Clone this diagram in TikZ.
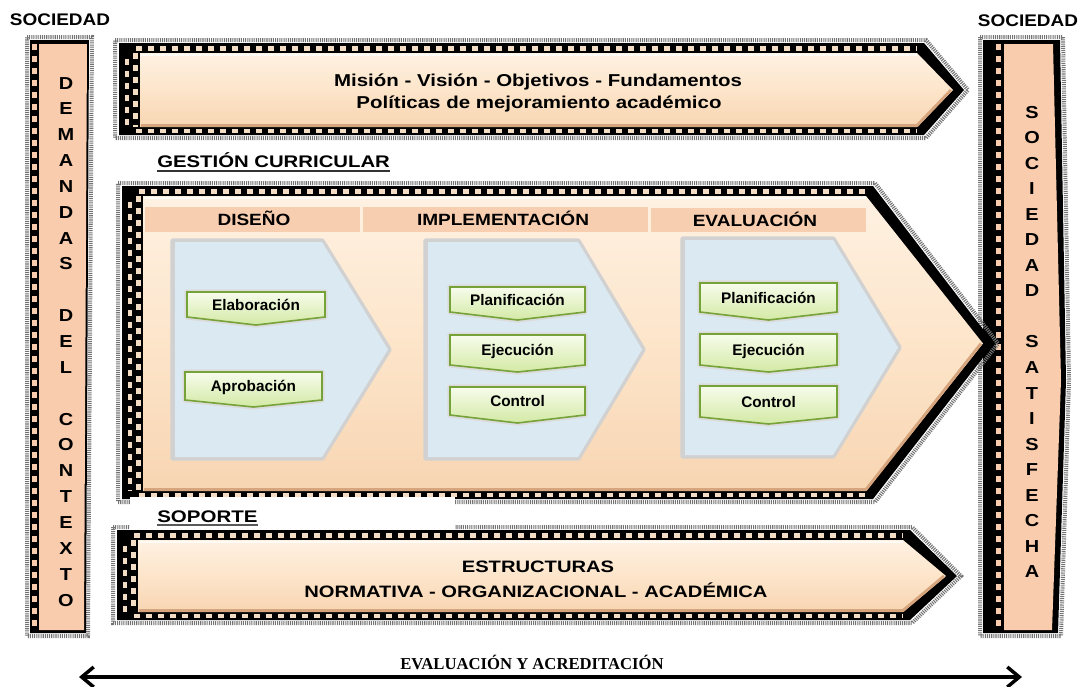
\documentclass[tikz,border=0pt]{standalone}
\usepackage{fontspec}
\usepackage{graphicx}
\setmainfont{Liberation Sans}
\newfontfamily\lserif{Liberation Serif}
\usetikzlibrary{arrows.meta}

\definecolor{barpeach}{HTML}{F8CCAC}
\definecolor{arrpeach}{HTML}{FDE5CA}
\definecolor{arrlight}{HTML}{FEF1E2}
\definecolor{arrdark}{HTML}{F7D5B2}
\definecolor{bevelc}{HTML}{D6A57E}
\definecolor{bandc}{HTML}{F8CEB0}
\definecolor{chevblue}{HTML}{DBEAF2}
\definecolor{gtop}{HTML}{F7FCEC}
\definecolor{gbot}{HTML}{D3E9A4}
\definecolor{gline}{HTML}{76A23A}
\definecolor{chk}{HTML}{F3DCC4}

\newcommand\hsc[2]{\scalebox{#1}[1]{#2}}

\tikzset{
  capt/.style={anchor=base, inner sep=0pt, font=\fontsize{12.6}{14}\selectfont\bfseries},
  vlet/.style={anchor=base, inner sep=0pt, font=\fontsize{13}{14}\selectfont\bfseries},
  gtext/.style={anchor=base, inner sep=0pt, font=\fontsize{11.5}{13}\selectfont\bfseries},
  grain/.style={draw=black!55, line width=3pt, dash pattern=on 0.8pt off 0.8pt},
  chkd/.style={draw=chk, line width=3.4pt, dash pattern=on 4.5pt off 4.5pt},
}

% framed arrow: left, top, bottom, shoulder x, point x
\newcommand\farrow[5]{%
  \pgfmathsetmacro\ymd{(#2+#3)/2}
  \draw[grain] ({#1-25},{#2-13}) -- ({#4+9},{#2-13}) -- ({#5+15},\ymd) -- ({#4+9},{#3+11}) -- ({#1-25},{#3+11}) -- cycle;
  \fill[black] ({#1-21},{#2-10}) -- ({#4+7},{#2-10}) -- ({#5+11},\ymd) -- ({#4+7},{#3+8}) -- ({#1-21},{#3+8}) -- cycle;
  \draw[chkd] ({#1-4},{#2-4.5}) -- (#4,{#2-4.5});
  \draw[chkd] ({#1-4},{#3+4}) -- (#4,{#3+4});
  \draw[chkd] ({#1-4.5},#2) -- ({#1-4.5},#3);
  \draw[chkd,dash phase=4.5pt] ({#1-13},#2) -- ({#1-13},#3);
  \shade[top color=arrlight, bottom color=arrdark, middle color=arrpeach] (#1,#2) -- (#4,#2) -- (#5,\ymd) -- (#4,#3) -- (#1,#3) -- cycle;
  \draw[bevelc, line width=2.2pt, line join=round] ({#1+1},{#3-1.5}) -- (#4,{#3-1.5}) -- ({#5-2},\ymd);
  \draw[white, line width=1.5pt, opacity=.7] ({#1+1},{#2+1.5}) -- (#4,{#2+1.5});
}
% blue chevron: left, top, bottom, shoulder, point
\newcommand\bchev[5]{%
  \pgfmathsetmacro\ymd{(#2+#3)/2}
  \draw[line width=4pt, draw=black!18, line join=round] ({#1-2},{#2-1}) -- (#4,{#2-1}) -- ({#5+1},\ymd) -- (#4,{#3+1}) -- ({#1-2},{#3+1}) -- cycle;
  \fill[chevblue] (#1,#2) -- (#4,#2) -- (#5,\ymd) -- (#4,#3) -- (#1,#3) -- cycle;
}
% green box: name, x1, x2, top, bottom, point, text
\newcommand\gbox[7]{%
  \draw[line width=4pt, draw=black!14, line join=round] (#2,#4) -- (#3,#4) -- (#3,#5) -- ({(#2+#3)/2},#6) -- (#2,#5) -- cycle;
  \shadedraw[top color=gtop, bottom color=gbot, draw=gline, line width=1.2pt] (#2,#4) -- (#3,#4) -- (#3,#5) -- ({(#2+#3)/2},#6) -- (#2,#5) -- cycle;
  \node[gtext] (#1) at ({(#2+#3)/2},{(#4+#5)/2+5.5}) {#7};
}

\begin{document}
\begin{tikzpicture}[x=0.75pt, y=-0.75pt]
\useasboundingbox[fill=white] (0,0) rectangle (1081,686);

% ---- left bar
\draw[grain] (27,37) -- (92,37) -- (88,636) -- (27,636) -- cycle;
\fill[black] (30,40) -- (89,40) -- (86,633) -- (30,633) -- cycle;
\fill[barpeach] (39,44) -- (87,44) -- (84,630) -- (39,630) -- cycle;
\draw[chkd, draw=barpeach] (34.5,44) -- (34.5,630);
\foreach \i/\c in {0/D,1/E,2/M,3/A,4/N,5/D,6/A,7/S,9/D,10/E,11/L,13/C,14/O,15/N,16/T,17/E,18/X,19/T,20/O}
  \node[vlet] (dl\i) at (66,{89+\i*25.85}) {\hsc{1.15}{\c}};

% ---- right bar
\draw[grain] (980,37) -- (1063,37) -- (1069,380) -- (1061,636) -- (980,636) -- cycle;
\fill[black] (983,40) -- (1060,40) -- (1066,380) -- (1058,633) -- (983,633) -- cycle;
\fill[barpeach] (1004,44) -- (1053,44) -- (1061,380) -- (1052,630) -- (1004,630) -- cycle;
\draw[chkd, draw=barpeach] (998.5,44) -- (998.5,630);
\foreach \i/\c in {0/S,1/O,2/C,3/I,4/E,5/D,6/A,7/D,9/S,10/A,11/T,12/I,13/S,14/F,15/E,16/C,17/H,18/A}
  \node[vlet] (sr\i) at (1032,{118+\i*25.55}) {\hsc{1.15}{\c}};

% ---- titles
\node[capt] (socL) at (60,25) {\hsc{1.13}{SOCIEDAD}};
\node[capt] (socR) at (1028,26) {\hsc{1.13}{SOCIEDAD}};

% ---- top arrow
\farrow{140}{53}{127}{917}{953}
\node[capt, font=\fontsize{12.9}{14}\selectfont\bfseries] (mision) at (538,86) {\hsc{1.19}{Misión - Visión - Objetivos - Fundamentos}};
\node[capt, font=\fontsize{12.9}{14}\selectfont\bfseries] (politicas) at (539,108) {\hsc{1.19}{Políticas de mejoramiento académico}};

% ---- gestion curricular
\node[capt, anchor=base west] (gc) at (157,167) {\hsc{1.21}{GESTIÓN CURRICULAR}};
\draw[black!80, line width=1.3pt] ([yshift=-3pt]gc.base west) -- ([yshift=-3pt]gc.base east);

% ---- main arrow
\farrow{143}{196}{491}{866}{983}
\fill[bandc] (145,207) rectangle (360,232);
\fill[bandc] (363,207) rectangle (648,232);
\fill[bandc] (651,208) rectangle (866,232);
\node[capt, font=\fontsize{12.2}{14}\selectfont\bfseries] (diseno) at (254,225) {\hsc{1.17}{DISEÑO}};
\node[capt, font=\fontsize{12.2}{14}\selectfont\bfseries] (implem) at (503,225) {\hsc{1.17}{IMPLEMENTACIÓN}};
\node[capt, font=\fontsize{12.2}{14}\selectfont\bfseries] (evalu) at (755,226) {\hsc{1.17}{EVALUACIÓN}};

\bchev{175}{242}{457}{322}{388}
\bchev{428}{242}{457}{578}{642}
\bchev{685}{240}{455}{833}{898}

\gbox{elab}{187}{325}{292}{317}{325}{Elaboración}
\gbox{aprob}{185}{322}{372}{400}{407}{Aprobación}
\gbox{iplan}{450}{585}{287}{312}{320}{Planificación}
\gbox{iejec}{450}{585}{335}{365}{372}{Ejecución}
\gbox{icont}{450}{585}{387}{415}{423}{Control}
\gbox{eplan}{700}{837}{283}{312}{320}{Planificación}
\gbox{eejec}{700}{837}{334}{365}{372}{Ejecución}
\gbox{econt}{700}{837}{386}{417}{424}{Control}

% ---- bottom arrow
\farrow{138}{540}{612}{903}{946}
\fill[white] (130,497) rectangle (455,530);
\node[capt, anchor=base west] (soporte) at (157,522) {\hsc{1.22}{SOPORTE}};
\draw[black!65, line width=1.3pt] ([yshift=-2.5pt]soporte.base west) -- ([yshift=-2.5pt]soporte.base east);
\node[capt, font=\fontsize{12.4}{14}\selectfont\bfseries] (estr) at (538,572) {\hsc{1.22}{ESTRUCTURAS}};
\node[capt, font=\fontsize{12.4}{14}\selectfont\bfseries] (norm) at (536,597) {\hsc{1.22}{NORMATIVA - ORGANIZACIONAL - ACADÉMICA}};

% ---- evaluation arrow
\node[anchor=base, inner sep=0pt, font=\lserif\fontsize{12.5}{14}\selectfont\bfseries] (evacr) at (532,669) {EVALUACIÓN Y ACREDITACIÓN};
\coordinate (evL) at (79,677);
\coordinate (evR) at (1022,677);
\draw[line width=2.6pt, {Straight Barb[length=9pt,width=15pt]}-{Straight Barb[length=9pt,width=15pt]}] (evL) -- (evR);
\end{tikzpicture}
\end{document}
